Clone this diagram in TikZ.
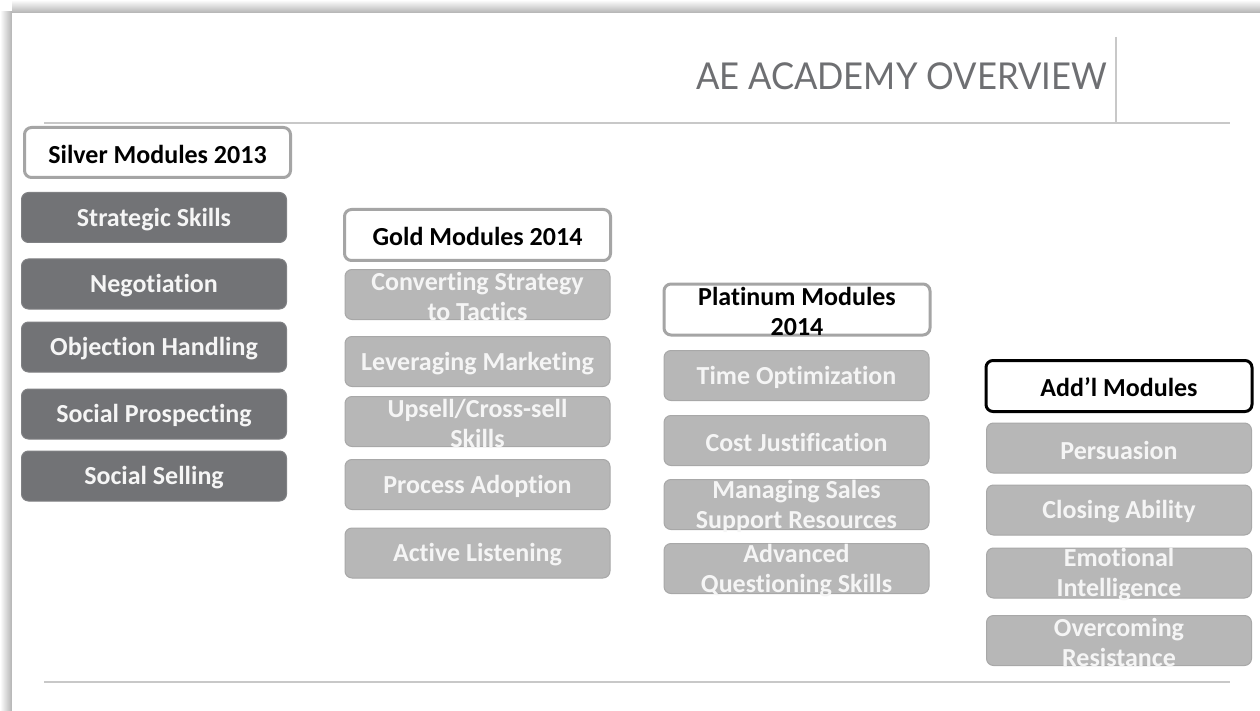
\documentclass[tikz,border=0pt]{standalone}
\usepackage{fontspec}
\setmainfont{Carlito}[Ligatures=NoCommon]
\newfontfamily\titlefont{Lato}
\definecolor{darkfill}{RGB}{114,115,118}
\definecolor{darkedge}{RGB}{128,129,132}
\definecolor{lightfill}{RGB}{183,183,183}
\definecolor{lightedge}{RGB}{168,168,168}
\definecolor{hdrgray}{RGB}{165,165,165}
\definecolor{rulegray}{RGB}{200,200,200}
\definecolor{titlegray}{RGB}{110,111,114}
\definecolor{lighttext}{RGB}{245,245,245}
\tikzset{
  boxbase/.style={rounded corners=7pt, minimum width=265pt, minimum height=50pt, inner sep=0pt},
  hdrbox/.style={boxbase, draw=hdrgray, line width=3pt, fill=white},
  addbox/.style={boxbase, draw=black, line width=3pt, fill=white},
  darkbox/.style={boxbase, draw=darkedge, line width=1pt, fill=darkfill},
  lightbox/.style={boxbase, draw=lightedge, line width=1pt, fill=lightfill},
  hdrtext/.style={font=\fontsize{26}{30}\selectfont\bfseries, align=center, text=black, inner sep=0pt, yshift=-1.5pt},
  boxtext/.style={font=\fontsize{26}{30}\selectfont\bfseries, align=center, text=lighttext, inner sep=0pt, yshift=-2pt},
  rule/.style={draw=rulegray, line width=1.2pt}
}
\begin{document}
\begin{tikzpicture}[x=1pt,y=-1pt]
\useasboundingbox (0,0) rectangle (1260,711);
% slide shadow
\shade[top color=white, bottom color=black!30] (12,0) rectangle (1260,13);
\shade[left color=white, right color=black!30] (0,12) rectangle (12,711);
\fill[white] (12,13) rectangle (1260,711);
% title and rules
\coordinate (rl) at (44,123);
\coordinate (rr) at (1230,123);
\coordinate (vt) at (1116,37);
\coordinate (vb) at (1116,123);
\coordinate (bl) at (44,682);
\coordinate (br) at (1230,682);
\draw[rule] (rl) -- (rr);
\draw[rule] (vt) -- (vb);
\draw[rule] (bl) -- (br);
\node[anchor=base east, inner sep=0pt, text=titlegray, xscale=0.935, font=\titlefont\fontsize{37}{40}\selectfont] (title) at (1107,90) {AE ACADEMY OVERVIEW};
% Silver
\node[hdrbox, minimum width=266pt] (sh) at (157.5,152.5) {};
\node[hdrtext] (sht) at (sh) {Silver Modules 2013};
\node[darkbox] (s1) at (154,217.5) {};
\node[boxtext] (s1t) at (s1) {Strategic Skills};
\node[darkbox] (s2) at (154,284) {};
\node[boxtext] (s2t) at (s2) {Negotiation};
\node[darkbox] (s3) at (154,347) {};
\node[boxtext] (s3t) at (s3) {Objection Handling};
\node[darkbox] (s4) at (154,414) {};
\node[boxtext] (s4t) at (s4) {Social Prospecting};
\node[darkbox] (s5) at (154,476) {};
\node[boxtext] (s5t) at (s5) {Social Selling};
% Gold
\node[hdrbox, minimum width=266pt, minimum height=51pt] (gh) at (477.5,235) {};
\node[hdrtext] (ght) at (gh) {Gold Modules 2014};
\node[lightbox] (g1) at (477.5,294.5) {};
\node[boxtext] (g1t) at (g1) {Converting Strategy\\to Tactics};
\node[lightbox] (g2) at (477.5,361.5) {};
\node[boxtext] (g2t) at (g2) {Leveraging Marketing};
\node[lightbox] (g3) at (477.5,421.5) {};
\node[boxtext] (g3t) at (g3) {Upsell/Cross-sell\\Skills};
\node[lightbox] (g4) at (477.5,484.5) {};
\node[boxtext] (g4t) at (g4) {Process Adoption};
\node[lightbox] (g5) at (477.5,553) {};
\node[boxtext] (g5t) at (g5) {Active Listening};
% Platinum
\node[hdrbox, minimum width=266pt, minimum height=51pt] (ph) at (797,309.5) {};
\node[hdrtext] (pht) at (ph) {Platinum Modules\\2014};
\node[lightbox] (p1) at (796.5,375.5) {};
\node[boxtext] (p1t) at (p1) {Time Optimization};
\node[lightbox] (p2) at (796.5,440.5) {};
\node[boxtext] (p2t) at (p2) {Cost Justification};
\node[lightbox] (p3) at (796.5,504.5) {};
\node[boxtext] (p3t) at (p3) {Managing Sales\\Support Resources};
\node[lightbox] (p4) at (796.5,568.5) {};
\node[boxtext] (p4t) at (p4) {Advanced\\Questioning Skills};
% Add'l
\node[addbox, minimum width=266pt, minimum height=51pt] (ah) at (1119,386) {};
\node[hdrtext] (aht) at (ah) {Add’l Modules};
\node[lightbox] (a1) at (1119,448) {};
\node[boxtext] (a1t) at (a1) {Persuasion};
\node[lightbox] (a2) at (1119,510) {};
\node[boxtext] (a2t) at (a2) {Closing Ability};
\node[lightbox] (a3) at (1119,573) {};
\node[boxtext] (a3t) at (a3) {Emotional\\Intelligence};
\node[lightbox] (a4) at (1119,640.5) {};
\node[boxtext] (a4t) at (a4) {Overcoming\\Resistance};
\end{tikzpicture}
\end{document}
